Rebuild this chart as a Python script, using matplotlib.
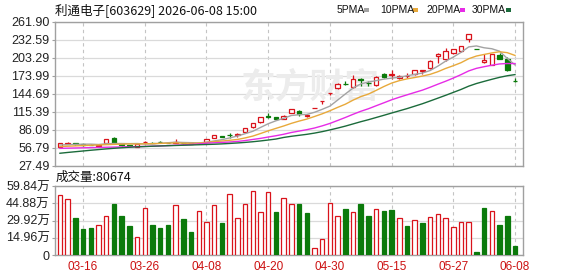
import matplotlib
matplotlib.use('Agg')
import matplotlib.pyplot as plt
from matplotlib.patches import Rectangle

# ---------------- data ----------------
tick_labels = ['03-16', '03-26', '04-08', '04-20', '04-30', '05-15', '05-27', '06-08']
tick_index = [3, 11, 19, 27, 35, 43, 51, 59]

opens = [58.5, 63, 63.5, 62, 61.5, 60, 64, 72, 63, 61,
         58, 65.5, 65, 66.5, 65, 65, 65, 64, 63.5, 66,
         72.5, 75.5, 77.5, 78, 83, 90, 98, 108.5, 106, 103.5,
         113, 116, 109, 120.8, 132.5, 146, 153.5, 161, 155.5, 168,
         163, 159, 177.5, 176, 171, 173.5, 176.5, 182, 186, 207,
         201, 211, 214, 234, 218.5, 196, 192, 208, 201, 166]
highs = [65, 66, 64.5, 62.5, 62, 61.5, 70.5, 74, 64, 61.5,
         63, 68, 65.5, 67.5, 65.5, 71, 65.5, 64.5, 64.5, 70.5,
         78, 76, 80, 80, 89.5, 97, 107, 113, 106.5, 109.5,
         120.5, 118, 112, 121, 133.1, 146.4, 161.5, 165, 175, 170,
         165, 173, 179, 183, 176, 178, 184, 184, 200, 211,
         219, 218, 223.5, 243, 218.5, 209.5, 210, 212, 204, 171]
lows = [57, 62, 61, 60, 60.5, 59.5, 63.5, 63.5, 60, 59,
        57.5, 65, 64, 64.5, 64, 64.5, 63, 62.5, 63, 65.5,
        72, 74, 72.5, 74.5, 82.5, 89.5, 97.5, 104.5, 102.5, 103,
        112.5, 108, 106, 120.8, 128, 143, 152, 159.5, 154, 157,
        158, 158, 171, 168, 168, 170, 176, 177, 185, 195,
        199, 209, 213, 229.5, 218, 195, 191.5, 201, 182.5, 164.5]
closes = [64, 64, 62, 61, 61, 61, 70, 64, 61, 60,
          62, 66.5, 64.5, 66, 64.5, 66.5, 64, 63, 64, 70,
          77, 74.5, 77, 79.5, 89, 96.5, 106, 107.5, 103.5, 109,
          120, 112, 110, 121, 133.1, 146.4, 161, 160, 169, 167,
          162, 172.5, 172.5, 177, 174, 174.5, 183.5, 183.5, 197.5, 210,
          215, 217, 222, 242, 218, 200, 209, 202, 183, 165]

ma5 = [61, 61.5, 62, 62.3, 62.4, 61.8, 63, 63.4, 63.4, 63.2,
       63.4, 62.7, 62.8, 63.8, 64.7, 65.6, 65.1, 64.8, 64.4, 65.5,
       67.6, 69.7, 72.5, 75.6, 79.4, 83.3, 89.6, 95.7, 100.5, 104.5,
       109.2, 110.4, 110.9, 114.4, 119.2, 124.5, 134.3, 144.3, 153.9, 160.7,
       163.8, 166.1, 168.6, 170.2, 171.6, 174.1, 176.3, 178.5, 182.6, 189.8,
       197.9, 204.6, 212.3, 221.2, 222.8, 219.8, 218.2, 214.2, 202.4, 191.8]
ma10 = [58.5, 59, 59.5, 60, 60.5, 61, 61.5, 62, 62.4, 62.8,
        62.6, 62.9, 63.1, 63.6, 64.0, 64.5, 63.9, 63.8, 64.1, 65.1,
        66.6, 67.4, 68.7, 70.0, 72.5, 75.5, 79.7, 84.1, 88.1, 92.0,
        96.3, 100.0, 103.3, 107.5, 111.9, 116.9, 122.4, 127.6, 134.2, 140.0,
        144.2, 150.2, 156.5, 162.1, 166.1, 169.0, 171.2, 173.6, 176.4, 180.7,
        186.0, 190.5, 195.4, 201.9, 206.3, 208.9, 211.4, 213.3, 211.8, 207.3]
ma20 = [55.5, 55.8, 56.1, 56.4, 56.7, 57, 57.3, 57.6, 57.9, 58.1,
        58.3, 58.6, 59, 59.5, 60, 60.6, 61.2, 61.8, 62.6, 64.0,
        64.6, 65.1, 65.9, 66.8, 68.2, 70.0, 71.8, 74.0, 76.1, 78.5,
        81.4, 83.7, 86.0, 88.7, 92.2, 96.2, 101.0, 105.9, 111.1, 116.0,
        120.2, 125.1, 129.9, 134.8, 139.0, 142.9, 146.8, 150.6, 155.3, 160.3,
        165.1, 170.3, 175.9, 182.0, 186.2, 188.9, 191.3, 193.4, 194.1, 194.0]
ma30 = [47.5, 48.8, 50, 51.2, 52.4, 53.5, 54.6, 55.6, 56.5, 57.3,
        58, 58.5, 59, 59.4, 59.8, 60.2, 60.6, 61, 61.4, 61.8,
        62.2, 62.8, 63.5, 64.3, 65.2, 66.3, 67.6, 69.1, 70.7, 73.3,
        75.2, 76.8, 78.4, 80.4, 82.8, 85.6, 88.6, 91.8, 95.4, 99.0,
        102.3, 105.9, 109.5, 113.2, 116.8, 120.4, 124.4, 128.4, 132.9, 137.5,
        142.1, 146.9, 151.7, 157.1, 161.4, 164.9, 168.3, 171.5, 174.1, 176.0]

volume_wan = [52.0, 48.6, 32.1, 22.5, 23.4, 26.0, 33.8, 44.5, 33.8, 25.2,
              15.6, 40.8, 26.0, 23.4, 26.0, 43.4, 31.2, 19.9, 38.2, 28.6,
              43.4, 27.8, 52.9, 32.1, 44.2, 55.5, 37.3, 54.6, 37.3, 49.4,
              44.2, 44.2, 36.4, 6.1, 13.9, 45.1, 33.8, 39.9, 37.3, 44.2,
              33.8, 39.9, 38.2, 39.0, 32.1, 25.2, 30.4, 27.8, 33.0, 35.6,
              32.1, 24.3, 28.6, 28.6, 2.6, 40.8, 38.2, 26.0, 33.8, 8.0674]
volume_up = [1, 1, 0, 0, 0, 1, 1, 0, 0, 0,
             1, 1, 0, 0, 0, 1, 0, 0, 1, 1,
             1, 0, 1, 1, 1, 1, 1, 1, 0, 1,
             1, 0, 0, 1, 1, 1, 1, 0, 1, 0,
             0, 1, 0, 0, 1, 0, 1, 0, 1, 1,
             1, 1, 1, 1, 0, 0, 1, 0, 0, 0]

price_ticks = [27.49, 56.79, 86.09, 115.39, 144.69, 173.99, 203.29, 232.59, 261.90]
price_labels = ['27.49', '56.79', '86.09', '115.39', '144.69', '173.99', '203.29', '232.59', '261.90']
vol_ticks = [0, 14.96, 29.92, 44.88, 59.84]
vol_labels = ['0', '14.96万', '29.92万', '44.88万', '59.84万']

title_text = '利通电子[603629] 2026-06-08 15:00'
vol_title = '成交量:80674'
legend_names = ['5PMA', '10PMA', '20PMA', '30PMA']

# ---------------- style ----------------
RED = '#d9131b'
GREEN = '#0b7a0b'
MA_COLORS = ['#a3a3a3', '#e8a93a', '#e62be6', '#1b6b3b']
FRAME = '#a0a0a0'
GRID = '#dadada'
W, H = 578, 276

fig = plt.figure(figsize=(W / 100, H / 100), dpi=100)
fig.patch.set_facecolor('white')

L, R = 55.3, 522.7
def ax_rect(top, bottom):
    return [L / W, 1 - bottom / H, (R - L) / W, (bottom - top) / H]

ax = fig.add_axes(ax_rect(22, 165.5))
axv = fig.add_axes(ax_rect(186, 255))

n = len(closes)
xs = list(range(n))
BODY_W = 0.58

# ---- main candlesticks ----
for i in xs:
    o, h, l, c = opens[i], highs[i], lows[i], closes[i]
    up = c >= o
    col = RED if up else GREEN
    ax.vlines(i, l, h, color=col, lw=0.9, zorder=3)
    bottom = min(o, c)
    height = max(abs(c - o), 0.25)
    ax.add_patch(Rectangle((i - BODY_W / 2, bottom), BODY_W, height,
                           facecolor='white' if up else GREEN, edgecolor=col,
                           lw=0.9, zorder=4))

for vals, col in zip([ma5, ma10, ma20, ma30], MA_COLORS):
    ax.plot(xs, vals, color=col, lw=1.0, zorder=5)

# ---- volume bars ----
for i in xs:
    up = volume_up[i]
    col = RED if up else GREEN
    axv.add_patch(Rectangle((i - BODY_W / 2, 0), BODY_W, volume_wan[i],
                            facecolor='white' if up else GREEN, edgecolor=col,
                            lw=0.9, zorder=3))

for a, lo, hi, ticks in [(ax, 27.49, 261.90, price_ticks), (axv, 0, 59.84, vol_ticks)]:
    a.set_xlim(-0.6, 60.0)
    a.set_ylim(lo, hi)
    a.set_yticks(ticks)
    a.set_xticks(tick_index)
    a.grid(axis='y', color=GRID, lw=0.9, ls='-', zorder=0)
    a.grid(axis='x', color='#c4c4c4', lw=0.8, ls=(0, (3, 3)), zorder=0)
    a.set_axisbelow(True)
    for s in a.spines.values():
        s.set_color(FRAME)
        s.set_linewidth(1.0)
    a.tick_params(axis='y', length=2.5, width=0.8, color=FRAME, pad=1.5,
                  labelsize=9, labelcolor='#222222')
    a.tick_params(axis='x', length=0)

ax.set_yticklabels(price_labels, family=['Liberation Sans', 'DejaVu Sans'])
ax.set_xticklabels([])
axv.set_yticklabels(vol_labels, family=['Liberation Sans', 'Noto Sans CJK SC'])
axv.set_xticklabels(tick_labels, family=['Liberation Sans', 'DejaVu Sans'],
                    fontsize=8.5, color='#cc1111')
axv.tick_params(axis='x', pad=4)

# watermark
ax.text(0.545, 0.545, '东方财富', transform=ax.transAxes, fontsize=25,
        family=['Noto Sans CJK SC'], fontweight='bold', color='#ececec',
        ha='center', va='center', zorder=1)

# title
fig.text(L / W, 1 - 10.5 / H, title_text, fontsize=9,
         family=['Noto Sans CJK SC', 'DejaVu Sans'], color='#111111',
         ha='left', va='center')
fig.text(L / W, 1 - 177.5 / H, vol_title, fontsize=9,
         family=['Noto Sans CJK SC', 'DejaVu Sans'], color='#111111',
         ha='left', va='center')

# MA legend
leg_x = [337, 380, 426, 472]
sq_x = [367, 415, 462.6, 508]
for name, lx, sx, col in zip(legend_names, leg_x, sq_x, MA_COLORS):
    fig.text(lx / W, 1 - 10 / H, name, fontsize=7.5,
             family=['Liberation Sans Narrow', 'Liberation Sans'], color='#111111',
             ha='left', va='center')
    fig.patches.append(Rectangle(((sx - 2.5) / W, 1 - 12 / H), 5 / W, 4 / H,
                                 transform=fig.transFigure, facecolor=col,
                                 edgecolor='none'))

fig.savefig('out.png', dpi=100, facecolor='white')
